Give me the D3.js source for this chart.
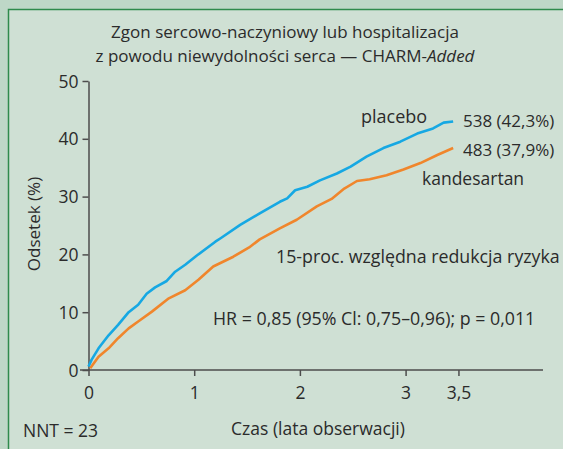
<!DOCTYPE html>
<html>
<head>
<meta charset="utf-8">
<script src="https://cdn.jsdelivr.net/npm/d3@7"></script>
<style>
  body { margin: 0; background: #bed7c7; }
  svg { display: block; font-family: "Open Sans", sans-serif; }
</style>
</head>
<body>
<svg id="chart" width="563" height="449"></svg>
<script>
// values (cumulative event rate, %)
const placeboTime = [0, 0.03, 0.095, 0.19, 0.28, 0.38, 0.47, 0.55, 0.63, 0.74, 0.82, 0.915, 1.025, 1.2, 1.25, 1.435, 1.62, 1.81, 1.88, 1.955, 2.07, 2.19, 2.35, 2.48, 2.63, 2.79, 2.95, 3.11, 3.26, 3.36, 3.45]
const placeboPct = [0.6, 1.8, 3.75, 6.0, 7.8, 10.0, 11.3, 13.2, 14.3, 15.4, 17.0, 18.2, 19.8, 22.2, 22.8, 25.1, 27.1, 29.1, 29.7, 31.1, 31.7, 32.8, 34.0, 35.2, 36.9, 38.4, 39.5, 40.9, 41.8, 42.8, 43.0]

const kandTime = [0.016, 0.095, 0.19, 0.28, 0.38, 0.47, 0.6, 0.76, 0.915, 1.04, 1.18, 1.37, 1.52, 1.62, 1.81, 1.97, 2.16, 2.3, 2.42, 2.54, 2.66, 2.82, 2.98, 3.14, 3.3, 3.45]
const kandPct = [0.3, 2.3, 3.75, 5.5, 7.2, 8.4, 10.1, 12.4, 13.8, 15.6, 17.9, 19.6, 21.2, 22.6, 24.5, 26.0, 28.3, 29.6, 31.4, 32.7, 33.0, 33.7, 34.7, 35.8, 37.2, 38.4]

const xTicks = [0, 1, 2, 3, 3.5]
const yTicks = [0, 10, 20, 30, 40, 50]

const svg = d3.select('#chart')
const ink = '#2b2b2b'

// panel
svg.append('rect')
  .attr('x', 8.5).attr('y', 9.5)
  .attr('width', 570).attr('height', 450)
  .attr('fill', '#cfe0d4')
  .attr('stroke', '#2f8a4c')
  .attr('stroke-width', 1.5)

const x = d3.scaleLinear().domain([0, 4.3]).range([88.5, 543])
const y = d3.scaleLinear().domain([0, 50]).range([370, 81])

// axes
const xAxis = svg.append('g')
  .attr('transform', 'translate(0,370)')
  .call(d3.axisBottom(x).tickValues(xTicks).tickSize(6).tickSizeOuter(0)
    .tickFormat((d) => String(d).replace('.', ',')))

const yAxis = svg.append('g')
  .attr('transform', 'translate(88.5,0)')
  .call(d3.axisLeft(y).tickValues(yTicks).tickSize(6).tickSizeOuter(0))

svg.selectAll('.domain, .tick line')
  .attr('stroke', '#4d4d4d')
  .attr('stroke-width', 1.5)

xAxis.select('.domain').attr('d', 'M80,0H543')

svg.selectAll('.tick text')
  .attr('fill', ink)
  .style('font-size', '17.5px')
  .style('font-family', '"Open Sans", sans-serif')

xAxis.selectAll('.tick text').attr('dy', null).attr('y', 29)
yAxis.selectAll('.tick text').attr('x', -10).attr('dy', '0.35em')

// curves
const line = d3.line().x((d) => x(d[0])).y((d) => y(d[1]))

svg.append('path')
  .datum(kandTime.map((t, i) => [t, kandPct[i]]))
  .attr('d', line)
  .attr('fill', 'none')
  .attr('stroke', '#f0862c')
  .attr('stroke-width', 2.6)
  .attr('stroke-linejoin', 'round')

svg.append('path')
  .datum(placeboTime.map((t, i) => [t, placeboPct[i]]))
  .attr('d', line)
  .attr('fill', 'none')
  .attr('stroke', '#16a8e3')
  .attr('stroke-width', 2.6)
  .attr('stroke-linejoin', 'round')

// text
const label = (tx, ty, str, anchor, size) => svg.append('text')
  .attr('x', tx).attr('y', ty)
  .attr('text-anchor', anchor || 'start')
  .attr('fill', ink)
  .style('font-size', (size || 17.5) + 'px')
  .text(str)

label(285, 38, 'Zgon sercowo-naczyniowy lub hospitalizacja', 'middle', 17)
const t2 = label(285, 62, 'z powodu niewydolności serca — CHARM-', 'middle', 17)
t2.append('tspan').style('font-style', 'italic').text('Added')

label(361, 123, 'placebo', 'start', 18)
label(463, 127, '538 (42,3%)', 'start', 17)
label(463, 156, '483 (37,9%)', 'start', 17)
label(422, 185, 'kandesartan', 'start', 17.5)
label(276, 263, '15-proc. względna redukcja ryzyka', 'start', 17.8)
label(213, 325, 'HR = 0,85 (95% Cl: 0,75–0,96); p = 0,011', 'start', 17.8)
label(318, 435, 'Czas (lata obserwacji)', 'middle')
label(23, 437, 'NNT = 23')

svg.append('text')
  .attr('transform', 'translate(40,224) rotate(-90)')
  .attr('text-anchor', 'middle')
  .attr('fill', ink)
  .style('font-size', '17px')
  .text('Odsetek (%)')
</script>
</body>
</html>
